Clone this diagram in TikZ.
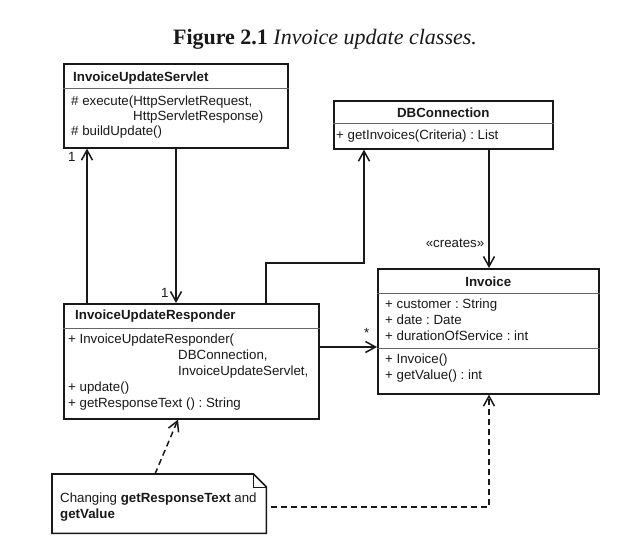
\documentclass[tikz,border=0pt]{standalone}
\usepackage{fontspec}
\setmainfont{Liberation Serif}
\setsansfont{Liberation Sans}
\usetikzlibrary{arrows.meta}
\frenchspacing

\tikzset{
	classbox/.style={draw=black!90, line width=1.6pt, anchor=north west, inner sep=0pt},
	sepline/.style={draw=black!60, line width=0.9pt},
	member/.style={anchor=base west, inner sep=0pt, text=black!90, font=\sffamily\fontsize{13.3}{16}\selectfont},
	classname/.style={member, font=\sffamily\bfseries\fontsize{13.3}{16}\selectfont},
	assoc/.style={draw=black!90, line width=1.5pt, -{Straight Barb[length=10pt,width=11pt]}},
	depend/.style={assoc, dash pattern=on 6pt off 4pt},
}

\begin{document}
\begin{tikzpicture}[x=1pt, y=-1pt]
	\useasboundingbox [fill=white] (0,0) rectangle (633,544);
	\node [font=\fontsize{22}{26}\selectfont, text=black!90] (title) at (325,39) {\textbf{Figure 2.1} \textit{Invoice update classes.}};

	\node [classbox, minimum width=224pt, minimum height=84pt] (servlet) at (63,63) {};
	\node [classbox, minimum width=219pt, minimum height=48pt] (db) at (333,100) {};
	\node [classbox, minimum width=221pt, minimum height=125pt] (inv) at (377,268) {};
	\node [classbox, minimum width=255pt, minimum height=115pt] (resp) at (63,303) {};
	\node [anchor=north west, inner sep=0pt, minimum width=214pt, minimum height=59pt] (note) at (52,474) {};

	\draw [sepline] ([yshift=-25pt]servlet.north west) -- ([yshift=-25pt]servlet.north east);
	\draw [sepline] ([yshift=-23pt]db.north west) -- ([yshift=-23pt]db.north east);
	\draw [sepline] ([yshift=-25pt]inv.north west) -- ([yshift=-25pt]inv.north east);
	\draw [sepline] ([yshift=-80pt]inv.north west) -- ([yshift=-80pt]inv.north east);
	\draw [sepline] ([yshift=-25pt]resp.north west) -- ([yshift=-25pt]resp.north east);
	\draw [draw=black!90, line width=1.6pt] (note.north west) -- ([xshift=-13pt]note.north east) -- ([yshift=-13pt]note.north east) -- (note.south east) -- (note.south west) -- cycle;
	\draw [draw=black!90, line width=1pt] ([xshift=-13pt]note.north east) |- ([yshift=-13pt]note.north east);

	\node [classname] (servletName) at (73,81) {InvoiceUpdateServlet};
	\foreach \x/\y/\t [count=\i] in {71/105/{\# execute(HttpServletRequest,}, 133/120/{HttpServletResponse)}, 71/135/{\# buildUpdate()}} {
		\node [member] (servlet-m\i) at (\x,\y) {\t};
	}

	\node [classname, anchor=base] (dbName) at (db.north |- 0,117) {DBConnection};
	\node [member] (db-m1) at (336,139) {+ getInvoices(Criteria) : List};

	\node [classname, anchor=base] (invName) at (inv.north |- 0,286) {Invoice};
	\foreach \t [count=\i] in {+ customer : String, + date : Date, + durationOfService : int} {
		\node [member] (inv-a\i) at (385,292+16*\i) {\t};
	}
	\foreach \t [count=\i] in {+ Invoice(), + getValue() : int} {
		\node [member] (inv-m\i) at (385,347+16*\i) {\t};
	}

	\node [classname] (respName) at (75,319) {InvoiceUpdateResponder};
	\foreach \x/\t [count=\i] in {68/{+ InvoiceUpdateResponder(}, 178/{DBConnection,}, 178/{InvoiceUpdateServlet,}, 68/{+ update()}, 68/{+ getResponseText () : String}} {
		\node [member] (resp-m\i) at (\x,327+16*\i) {\t};
	}

	\node [member] (note-l1) at (60,502) {Changing \textbf{getResponseText} and};
	\node [member] (note-l2) at (60,518) {\textbf{getValue}};

	\draw [assoc] ([xshift=24pt]resp.north west) -- ([xshift=24pt]servlet.south west);
	\draw [assoc] ([xshift=113pt]servlet.south west) -- ([xshift=113pt]resp.north west);
	\draw [assoc] ([xshift=203pt]resp.north west) -- ++(0,-40) -| ([xshift=31pt]db.south west);
	\draw [assoc] ([xshift=156pt]db.south west) -- ([xshift=112pt]inv.north west);
	\draw [assoc] ([yshift=-44pt]resp.north east) -- ([yshift=-79pt]inv.north west);
	\draw [depend] ([xshift=103pt]note.north west) -- ([xshift=115pt]resp.south west);
	\draw [depend] ([xshift=5pt,yshift=-33pt]note.north east) -| ([xshift=112pt]inv.south west);

	\node [member] (oneServlet) at (68,161) {1};
	\node [member] (oneResp) at (161,297) {1};
	\node [member] (many) at (364,337) {*};
	\node [member, anchor=base] (creates) at (455,247) {«creates»};
\end{tikzpicture}
\end{document}
